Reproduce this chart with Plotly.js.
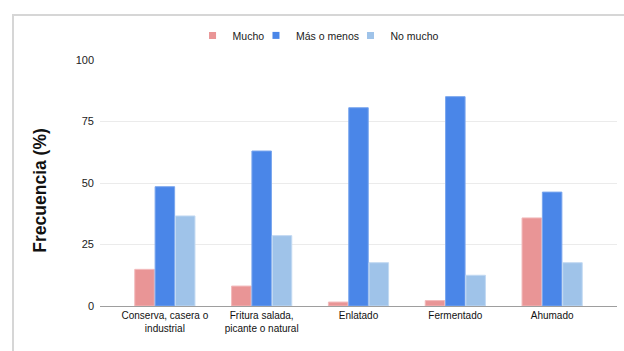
<!DOCTYPE html>
<html>
<head>
<meta charset="utf-8">
<script src="https://cdn.plot.ly/plotly-3.0.1.min.js"></script>
<style>
  html, body { margin: 0; padding: 0; background: #ffffff; }
  #wrap { position: relative; width: 624px; height: 351px; overflow: hidden; }
  #frame { position: absolute; left: 12px; top: 14px; width: 640px; height: 360px;
           border: 2px solid #d6d6d6; box-sizing: border-box; pointer-events: none; }
  #chart { position: absolute; left: 0; top: 0; width: 624px; height: 351px; }
</style>
</head>
<body>
<div id="wrap">
  <div id="chart"></div>
  <div id="frame"></div>
</div>
<script>
const categories = ["Conserva, casera o<br>industrial", "Fritura salada,<br>picante o natural", "Enlatado", "Fermentado", "Ahumado"];
const seriesNames = ["Mucho", "Más o menos", "No mucho"];
const mucho = [14.9, 8.1, 1.6, 2.2, 35.8];
const masOMenos = [48.5, 63.0, 80.6, 85.1, 46.3];
const noMucho = [36.6, 28.6, 17.6, 12.5, 17.6];
const yTicks = [0, 25, 50, 75, 100];
const yTitle = "Frecuencia (%)";

const colors = ["#e99596", "#4a86e8", "#9fc3e9"];
const edges = ["#f2b9ba", "#7aa6ee", "#c2d9f2"];
const values = [mucho, masOMenos, noMucho];
const legendIds = ["legend", "legend2", "legend3"];
const legendX = [0.179, 0.3017, 0.4845];

const traces = values.map((v, i) => ({
  type: "bar",
  name: seriesNames[i],
  legendgroup: seriesNames[i],
  showlegend: false,
  x: categories,
  y: v,
  marker: { color: colors[i], line: { color: edges[i], width: 1 } },
  hoverinfo: "x+y+name"
}));

// compact square legend keys, one small legend per series
seriesNames.forEach((n, i) => {
  traces.push({
    type: "scatter",
    mode: "markers",
    name: n,
    legendgroup: n,
    legend: legendIds[i],
    x: [null],
    y: [null],
    marker: { symbol: "square", size: 7, color: colors[i] },
    showlegend: true
  });
});

const legendStyle = (x) => ({
  orientation: "h",
  x: x, xanchor: "left",
  y: 1.10, yanchor: "middle",
  font: { size: 10.5, color: "#1a1a1a" },
  itemwidth: 30,
  bgcolor: "rgba(0,0,0,0)"
});

const layout = {
  width: 624,
  height: 351,
  margin: { l: 100, r: 7, t: 60, b: 45 },
  paper_bgcolor: "#ffffff",
  plot_bgcolor: "#ffffff",
  font: { family: "Arial, 'Liberation Sans', sans-serif", color: "#222222", size: 11 },
  barmode: "group",
  bargap: 0.37,
  bargroupgap: 0.04,
  showlegend: true,
  legend: legendStyle(legendX[0]),
  legend2: legendStyle(legendX[1]),
  legend3: legendStyle(legendX[2]),
  xaxis: {
    type: "category",
    range: [-0.67, 4.67],
    showgrid: false,
    showline: true,
    linecolor: "#9e9e9e",
    linewidth: 1,
    ticks: "",
    tickfont: { size: 10, color: "#111111" },
    automargin: false,
    fixedrange: true
  },
  yaxis: {
    range: [0, 100],
    tickvals: yTicks,
    ticktext: yTicks.map(String),
    showgrid: true,
    gridcolor: "#ebebeb",
    gridwidth: 1,
    zeroline: false,
    showline: false,
    ticks: "",
    ticklabelstandoff: 5,
    tickfont: { size: 11, color: "#222222" },
    automargin: false,
    fixedrange: true
  },
  annotations: [{
    text: yTitle,
    xref: "paper", yref: "paper",
    x: -0.115, y: 0.467,
    xanchor: "center", yanchor: "middle",
    textangle: -90,
    showarrow: false,
    font: { size: 17.5, color: "#111111", family: "Arial, 'Liberation Sans', sans-serif", weight: "bold" }
  }]
};

Plotly.newPlot("chart", traces, layout, { displayModeBar: false, staticPlot: true });
</script>
</body>
</html>
